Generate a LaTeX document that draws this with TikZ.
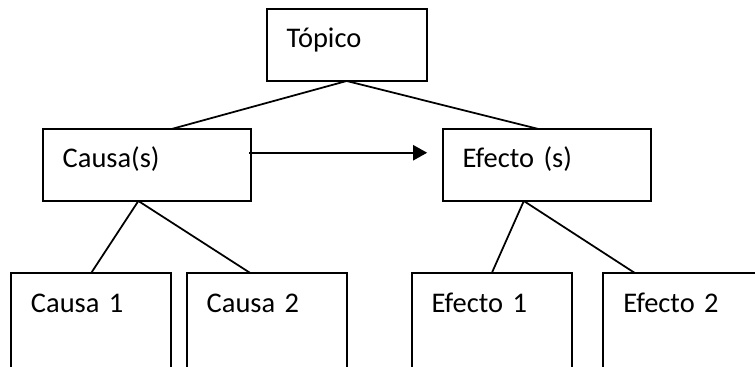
\documentclass[tikz,border=0pt]{standalone}
\usepackage{fontspec}
\setmainfont{Carlito}
\usetikzlibrary{arrows.meta,calc}
\tikzset{caja/.style={draw, line width=1pt, outer sep=0pt, anchor=north west, inner xsep=0.4cm, inner ysep=0pt,
  align=left, text height=0.78cm, font=\fontsize{16.2}{20}\selectfont},
  ancha/.style={caja, text width=3.36cm, text depth=0.66cm},
  corta/.style={caja, text width=2.4cm, text depth=0.66cm},
  baja/.style={caja, text width=2.4cm, text depth=1.8cm}}

\begin{document}
\begin{tikzpicture}[x=0.02cm, y=-0.02cm]
      \useasboundingbox (0, 0) rectangle (755, 367);
      \clip (0, 0) rectangle (755, 367);
      \node [corta] (topico) at (266.7, 9) {Tópico};
      \node [ancha] (causas) at (42.7, 129) {Causa(s)};
      \node [ancha] (efectos) at (442.7, 129) {Efecto (s)};
      \node [baja] (causa1) at (11, 273.3) {Causa 1};
      \node [baja] (causa2) at (186.7, 273.3) {Causa 2};
      \node [baja] (efecto1) at (411.7, 273.3) {Efecto 1};
      \node [baja] (efecto2) at (603.3, 273.3) {Efecto 2};

      \draw [line width=1pt] (topico.south) -- ($(causas.north west)!0.62!(causas.north east)$);
      \draw [line width=1pt] (topico.south) -- ($(efectos.north west)!0.46!(efectos.north east)$);
      \draw [line width=1.4pt, shorten <=-1pt, shorten >=0.31cm, -{Triangle[length=8pt, width=8.5pt]}]
        ($(causas.north east)!0.33!(causas.south east)$) -- ($(efectos.north west)!0.33!(efectos.south west)$);

      \draw [line width=1pt] ($(causas.south west)!0.46!(causas.south east)$) -- (causa1.north);
      \draw [line width=1pt] ($(causas.south west)!0.46!(causas.south east)$) -- ($(causa2.north west)!0.4!(causa2.north east)$);
      \draw [line width=1pt] ($(efectos.south west)!0.39!(efectos.south east)$) -- (efecto1.north);
      \draw [line width=1pt] ($(efectos.south west)!0.39!(efectos.south east)$) -- ($(efecto2.north west)!0.2!(efecto2.north east)$);
    \end{tikzpicture}
\end{document}
